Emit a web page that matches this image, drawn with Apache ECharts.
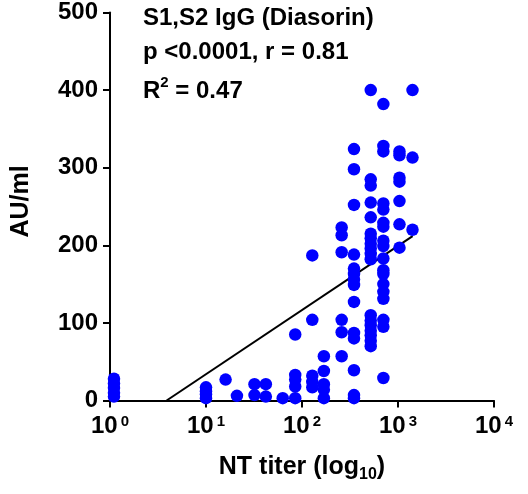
<!DOCTYPE html>
<html>
<head>
<meta charset="utf-8">
<script src="https://cdn.jsdelivr.net/npm/echarts@6/dist/echarts.min.js"></script>
<style>
  html, body { margin: 0; padding: 0; background: #fff; }
  #chart { width: 528px; height: 494px; }
</style>
</head>
<body>
<div id="chart"></div>
<script>
// NT titer groups (x) and the AU/ml readings measured at each titer (y)
const titers = [1.1, 10, 16, 21, 32, 42, 63, 85, 128, 169, 259, 348, 520, 704, 1036, 1416];
const auValues = [
  [28, 22, 16, 10, 5],
  [17, 12, 8, 3],
  [27],
  [6],
  [21, 7],
  [21, 5],
  [3],
  [85, 33, 27, 18, 3],
  [187, 104, 32, 24, 17],
  [57, 38, 21, 14, 3],
  [223, 213, 191, 104, 88, 57],
  [324, 298, 252, 188, 170, 163, 156, 149, 127, 87, 80, 39, 7, 3],
  [400, 285, 277, 255, 236, 215, 209, 202, 196, 189, 182, 110, 103, 97, 90, 84, 77, 70],
  [382, 328, 321, 254, 246, 229, 224, 206, 199, 183, 168, 163, 150, 140, 131, 104, 95, 29],
  [321, 316, 287, 282, 257, 227, 197],
  [400, 313, 220]
];

// Semi-log linear regression: AU = intercept + slope * log10(titer)
const fitSlope = 82.7;
const fitIntercept = -48.8;
const fitXMax = 1420;

// Axis ticks
const yTicks = [0, 100, 200, 300, 400, 500];
const xDecades = [0, 1, 2, 3, 4];

const points = [];
titers.forEach((t, i) => auValues[i].forEach(v => points.push([t, v])));

const fitXMin = Math.pow(10, -fitIntercept / fitSlope);
const fitLine = [fitXMin, fitXMax].map(x => [x, fitIntercept + fitSlope * Math.log10(x)]);

const FONT = '"Liberation Sans", Arial, Helvetica, sans-serif';
const chart = echarts.init(document.getElementById('chart'), null, { renderer: 'canvas' });

chart.setOption({
  animation: false,
  backgroundColor: '#fff',
  grid: { left: 110, right: 34, top: 12.5, bottom: 93.5, containLabel: false },
  xAxis: {
    type: 'log',
    logBase: 10,
    min: Math.pow(10, xDecades[0]),
    max: Math.pow(10, xDecades[xDecades.length - 1]),
    name: '{n|NT titer (log}{sub|10}{n|)}',
    nameLocation: 'middle',
    nameGap: 52,
    nameTextStyle: {
      rich: {
        n: { fontFamily: FONT, fontWeight: 'bold', fontSize: 25, color: '#000', lineHeight: 30 },
        sub: { fontFamily: FONT, fontWeight: 'bold', fontSize: 16, color: '#000', lineHeight: 14, verticalAlign: 'bottom' }
      }
    },
    axisLine: { show: true, onZero: false, lineStyle: { color: '#000', width: 2 } },
    axisTick: { show: true, inside: false, length: 7, lineStyle: { color: '#000', width: 2 } },
    minorTick: { show: false },
    splitLine: { show: false },
    axisLabel: {
      margin: 14,
      formatter: v => '{b|10}{s|' + Math.round(Math.log10(v)) + '}',
      rich: {
        b: { fontFamily: FONT, fontWeight: 'bold', fontSize: 24, color: '#000', lineHeight: 24 },
        s: { fontFamily: FONT, fontWeight: 'bold', fontSize: 15, color: '#000', lineHeight: 15, verticalAlign: 'top', padding: [0, 0, 0, 3] }
      }
    }
  },
  yAxis: {
    type: 'value',
    min: yTicks[0],
    max: yTicks[yTicks.length - 1],
    interval: yTicks[1] - yTicks[0],
    name: 'AU/ml',
    nameLocation: 'middle',
    nameGap: 76,
    nameTextStyle: { fontFamily: FONT, fontWeight: 'bold', fontSize: 25, color: '#000', padding: [0, 0, 0, 10] },
    axisLine: { show: true, onZero: false, lineStyle: { color: '#000', width: 2 } },
    axisTick: { show: true, inside: false, length: 7, lineStyle: { color: '#000', width: 2 } },
    splitLine: { show: false },
    axisLabel: { margin: 12, fontFamily: FONT, fontWeight: 'bold', fontSize: 24, color: '#000' }
  },
  graphic: [
    { type: 'text', left: 143, top: 6, style: { text: 'S1,S2 IgG (Diasorin)', font: 'bold 24px ' + FONT, fill: '#000' } },
    { type: 'text', left: 143, top: 40, style: { text: 'p <0.0001, r = 0.81', font: 'bold 24px ' + FONT, fill: '#000' } },
    { type: 'text', left: 143, top: 75, style: {
        text: '{a|R}{s|2}{a| = 0.47}',
        rich: {
          a: { fontFamily: FONT, fontWeight: 'bold', fontSize: 24, fill: '#000', lineHeight: 28, verticalAlign: 'bottom' },
          s: { fontFamily: FONT, fontWeight: 'bold', fontSize: 15, fill: '#000', lineHeight: 28, verticalAlign: 'top' }
        }
      } }
  ],
  series: [
    {
      type: 'scatter',
      data: points,
      symbol: 'circle',
      symbolSize: 12.5,
      itemStyle: { color: '#0000ff', opacity: 1 },
      z: 3
    },
    {
      type: 'line',
      data: fitLine,
      showSymbol: false,
      symbol: 'none',
      lineStyle: { color: '#000', width: 2 },
      z: 2
    }
  ]
});
</script>
</body>
</html>
